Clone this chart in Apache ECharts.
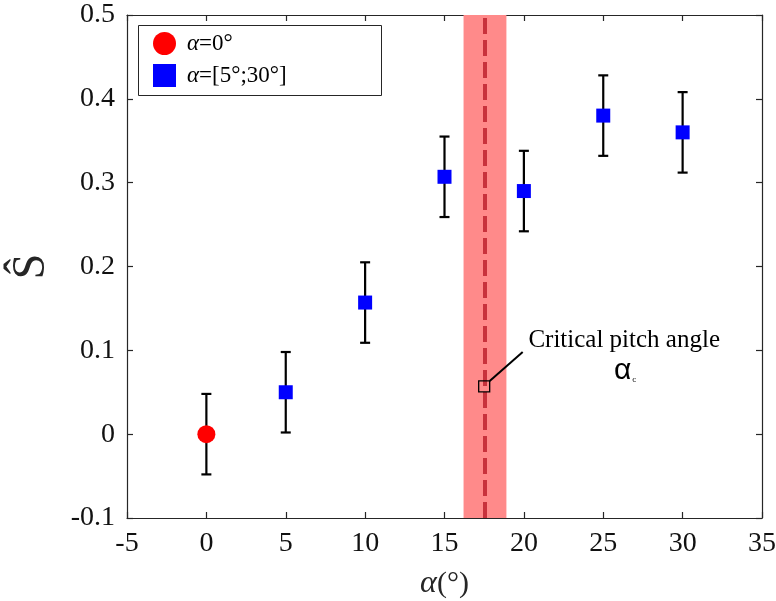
<!DOCTYPE html>
<html><head><meta charset="utf-8">
<script src="https://cdn.jsdelivr.net/npm/echarts@6/dist/echarts.min.js"></script>
<style>html,body{margin:0;padding:0;background:#fff}#c{width:776px;height:601px}</style>
</head><body><div id="c"></div>
<script>
const alphaRef = [0];
const sRef = [0];
const errRef = [0.048];
const alphaPitch = [5, 10, 15, 20, 25, 30];
const sPitch = [0.050, 0.157, 0.307, 0.290, 0.380, 0.360];
const errPitch = [0.048, 0.048, 0.048, 0.048, 0.048, 0.048];
const alphaCrit = 17.55;
const critBand = [16.2, 18.9];
const annotPoint = [17.5, 0.057];
const xTicks = [-5, 35, 5];
const yTicks = [-0.1, 0.5, 0.1];

const F = 'Liberation Serif';
const axisCol = '#262626';

const errData = [];
alphaRef.forEach((a, i) => errData.push([a, sRef[i] - errRef[i], sRef[i] + errRef[i]]));
alphaPitch.forEach((a, i) => errData.push([a, sPitch[i] - errPitch[i], sPitch[i] + errPitch[i]]));

const chart = echarts.init(document.getElementById('c'), null, {renderer: 'canvas'});
const baseX = {type: 'value', min: xTicks[0], max: xTicks[1], interval: xTicks[2], splitLine: {show: false},
  axisLine: {onZero: false, lineStyle: {color: axisCol, width: 1.2}},
  axisTick: {inside: true, length: 6, lineStyle: {color: axisCol, width: 1.2}}};
const baseY = {type: 'value', min: yTicks[0], max: yTicks[1], interval: yTicks[2], splitLine: {show: false},
  axisLine: {onZero: false, lineStyle: {color: axisCol, width: 1.2}},
  axisTick: {inside: true, length: 6, lineStyle: {color: axisCol, width: 1.2}}};

chart.setOption({
  animation: false,
  grid: {left: 127, right: 14, top: 15, bottom: 83, containLabel: false, outerBoundsMode: 'none'},
  xAxis: [
    Object.assign({}, baseX, {position: 'bottom',
      axisLabel: {fontFamily: F, fontSize: 28, color: '#111', margin: 12},
      name: '{i|α}(°)', nameLocation: 'middle', nameGap: 50,
      nameTextStyle: {fontFamily: F, fontSize: 30, color: '#262626', rich: {i: {fontFamily: F, fontStyle: 'italic', fontSize: 32, color: '#262626'}}}}),
    Object.assign({}, baseX, {position: 'top', axisLabel: {show: false}})
  ],
  yAxis: [
    Object.assign({}, baseY, {position: 'left',
      axisLabel: {fontFamily: F, fontSize: 28, color: '#111', margin: 12, formatter: v => (Math.round(v * 10) / 10).toString()},
      name: 'Ŝ', nameLocation: 'middle', nameGap: 72,
      nameTextStyle: {fontFamily: F, fontSize: 46, color: '#262626'}}),
    Object.assign({}, baseY, {position: 'right', axisLabel: {show: false}})
  ],
  legend: {
    orient: 'vertical', left: 148, top: 27, itemGap: 9, itemWidth: 23, itemHeight: 23,
    textStyle: {fontFamily: F, fontSize: 23, color: '#000',
      rich: {i: {fontFamily: F, fontStyle: 'italic', fontSize: 23, padding: [0, 0, 0, 6]}}},
    formatter: n => n.replace('α', '{i|α}'),
    data: [{name: 'α=0°', icon: 'circle'}, {name: 'α=[5°;30°]', icon: 'rect'}]
  },
  graphic: [{type: 'rect', shape: {x: 138.5, y: 25.5, width: 243, height: 70},
    style: {fill: '#fff', stroke: '#262626', lineWidth: 1}, z: -1, zlevel: 0}],
  series: [
    {
      type: 'custom', name: 'err', z: 3, silent: true,
      data: errData,
      renderItem: (params, api) => {
        const x = api.value(0), lo = api.value(1), hi = api.value(2);
        const p1 = api.coord([x, hi]), p2 = api.coord([x, lo]);
        const w = 5;
        const st = {stroke: '#000', lineWidth: 2.2};
        return {type: 'group', children: [
          {type: 'line', shape: {x1: p1[0], y1: p1[1], x2: p2[0], y2: p2[1]}, style: st},
          {type: 'line', shape: {x1: p1[0] - w, y1: p1[1], x2: p1[0] + w, y2: p1[1]}, style: st},
          {type: 'line', shape: {x1: p2[0] - w, y1: p2[1], x2: p2[0] + w, y2: p2[1]}, style: st}
        ]};
      },
      markArea: {silent: true, itemStyle: {color: '#FF8A8A'},
        data: [[{xAxis: critBand[0]}, {xAxis: critBand[1]}]]},
      markLine: {silent: true, symbol: 'none', label: {show: false},
        lineStyle: {color: '#C8323C', type: [16, 6], width: 4},
        data: [{xAxis: alphaCrit}]}
    },
    {
      type: 'scatter', name: 'α=0°', z: 5, symbol: 'circle', symbolSize: 18,
      itemStyle: {color: '#FF0000', opacity: 1},
      data: alphaRef.map((a, i) => [a, sRef[i]])
    },
    {
      type: 'scatter', name: 'α=[5°;30°]', z: 5, symbol: 'rect', symbolSize: 14,
      itemStyle: {color: '#0000FF', opacity: 1},
      data: alphaPitch.map((a, i) => [a, sPitch[i]])
    },
    {
      type: 'custom', name: 'annot', z: 6, silent: true,
      data: [annotPoint],
      renderItem: (params, api) => {
        const p = api.coord([api.value(0), api.value(1)]);
        return {type: 'group', children: [
          {type: 'rect', shape: {x: p[0] - 5.5, y: p[1] - 5.5, width: 11, height: 11},
            style: {fill: 'none', stroke: '#000', lineWidth: 1.3}},
          {type: 'line', shape: {x1: p[0] + 5.5, y1: p[1] - 5.5, x2: p[0] + 38.5, y2: p[1] - 34.5},
            style: {stroke: '#000', lineWidth: 2}},
          {type: 'text', x: p[0] + 140, y: p[1] - 46,
            style: {text: 'Critical pitch angle', fontFamily: F, fontSize: 25, fill: '#000',
              align: 'center', verticalAlign: 'middle'}},
          {type: 'text', x: p[0] + 141, y: p[1] - 16,
            style: {text: '{a|α}{c|c}', align: 'center', verticalAlign: 'middle', fill: '#000',
              rich: {a: {fontFamily: 'Liberation Sans', fontSize: 30, fill: '#000'},
                     c: {fontFamily: F, fontSize: 9, fill: '#000', padding: [18, 0, 0, 1]}}}}
        ]};
      }
    }
  ]
});
</script></body></html>
